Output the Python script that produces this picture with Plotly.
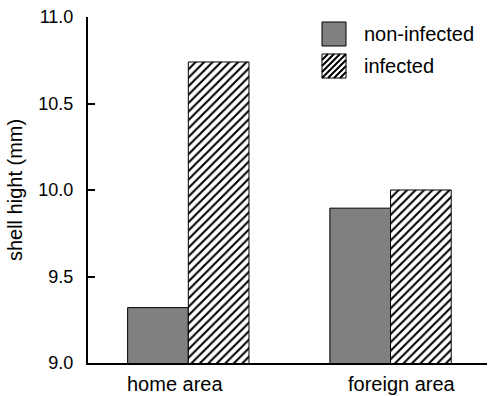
import plotly.graph_objects as go

categories = ["home area", "foreign area"]
non_infected = [9.32, 9.895]
infected = [10.74, 10.0]
series_names = ["non-infected", "infected"]
y_ticks = [9.0, 9.5, 10.0, 10.5, 11.0]

FONT = "Liberation Sans, Arial, sans-serif"
W, H = 492, 396
L, R, T, B = 88, 5, 17, 33
PW, PH = W - L - R, H - T - B


def px_x(px):
    return (px - L) / PW


def px_y(py):
    return (H - B - py) / PH


fig = go.Figure()
fig.add_trace(go.Bar(
    x=categories, y=non_infected, name=series_names[0],
    marker=dict(color="#808080", line=dict(color="black", width=1)),
    showlegend=False,
))
fig.add_trace(go.Bar(
    x=categories, y=infected, name=series_names[1],
    marker=dict(color="white", line=dict(color="black", width=1),
                pattern=dict(shape="/", fgcolor="black", bgcolor="white",
                             size=6, solidity=0.35, fillmode="replace")),
    showlegend=False,
))

shapes = []
# legend swatch 1 (solid gray)
shapes.append(dict(type="rect", xref="paper", yref="paper",
                   x0=px_x(322), x1=px_x(346), y0=px_y(46), y1=px_y(22),
                   fillcolor="#808080", line=dict(color="black", width=1)))
# legend swatch 2 (hatched)
bx0, bx1, by0, by1 = 322, 346, 54, 78
shapes.append(dict(type="rect", xref="paper", yref="paper",
                   x0=px_x(bx0), x1=px_x(bx1), y0=px_y(by1), y1=px_y(by0),
                   fillcolor="white", line=dict(color="black", width=1)))
segs = []
size = bx1 - bx0
c = bx0 - size
while c < bx1:
    t0 = max(0, bx0 - c)
    t1 = min(size, bx1 - c)
    if t1 > t0:
        xa, ya = c + t0, by1 - t0
        xb, yb = c + t1, by1 - t1
        segs.append(f"M{px_x(xa):.5f},{px_y(ya):.5f}L{px_x(xb):.5f},{px_y(yb):.5f}")
    c += 6
shapes.append(dict(type="path", xref="paper", yref="paper", path="".join(segs),
                   line=dict(color="black", width=2)))

annotations = [
    dict(text=series_names[0], xref="paper", yref="paper", x=px_x(362), y=px_y(34),
         xanchor="left", yanchor="middle", showarrow=False,
         font=dict(family=FONT, size=20, color="black")),
    dict(text=series_names[1], xref="paper", yref="paper", x=px_x(362), y=px_y(66),
         xanchor="left", yanchor="middle", showarrow=False,
         font=dict(family=FONT, size=20, color="black")),
    dict(text=categories[0], xref="x", yref="paper", x=categories[0], y=0,
         xanchor="center", yanchor="top", xshift=-13, yshift=-8, showarrow=False,
         font=dict(family=FONT, size=20, color="black")),
    dict(text=categories[1], xref="x", yref="paper", x=categories[1], y=0,
         xanchor="center", yanchor="top", xshift=11, yshift=-8, showarrow=False,
         font=dict(family=FONT, size=20, color="black")),
]

fig.update_layout(
    width=W, height=H,
    margin=dict(l=L, r=R, t=T, b=B, pad=0),
    paper_bgcolor="white", plot_bgcolor="white",
    barmode="group", bargap=0.4, bargroupgap=0,
    font=dict(family=FONT, size=16, color="black"),
    shapes=shapes, annotations=annotations,
    showlegend=False,
)
fig.update_xaxes(
    type="category", range=[-0.496, 1.477],
    showline=True, linecolor="black", linewidth=2,
    ticks="", showticklabels=False, showgrid=False, zeroline=False,
)
fig.update_yaxes(
    range=[9.0, 11.0], tickvals=y_ticks, ticktext=[f"{v:.1f}" for v in y_ticks],
    ticks="inside", ticklen=7, tickwidth=2, tickcolor="black",
    showline=True, linecolor="black", linewidth=2,
    showgrid=False, zeroline=False, ticklabelstandoff=9,
    tickfont=dict(family=FONT, size=18, color="black"),
    title=dict(text="shell hight (mm)", standoff=10,
               font=dict(family=FONT, size=20, color="black")),
)

fig.write_html("out.html", config={"displayModeBar": False},
               post_script="document.body.style.margin='0px';document.body.style.padding='0px';")
